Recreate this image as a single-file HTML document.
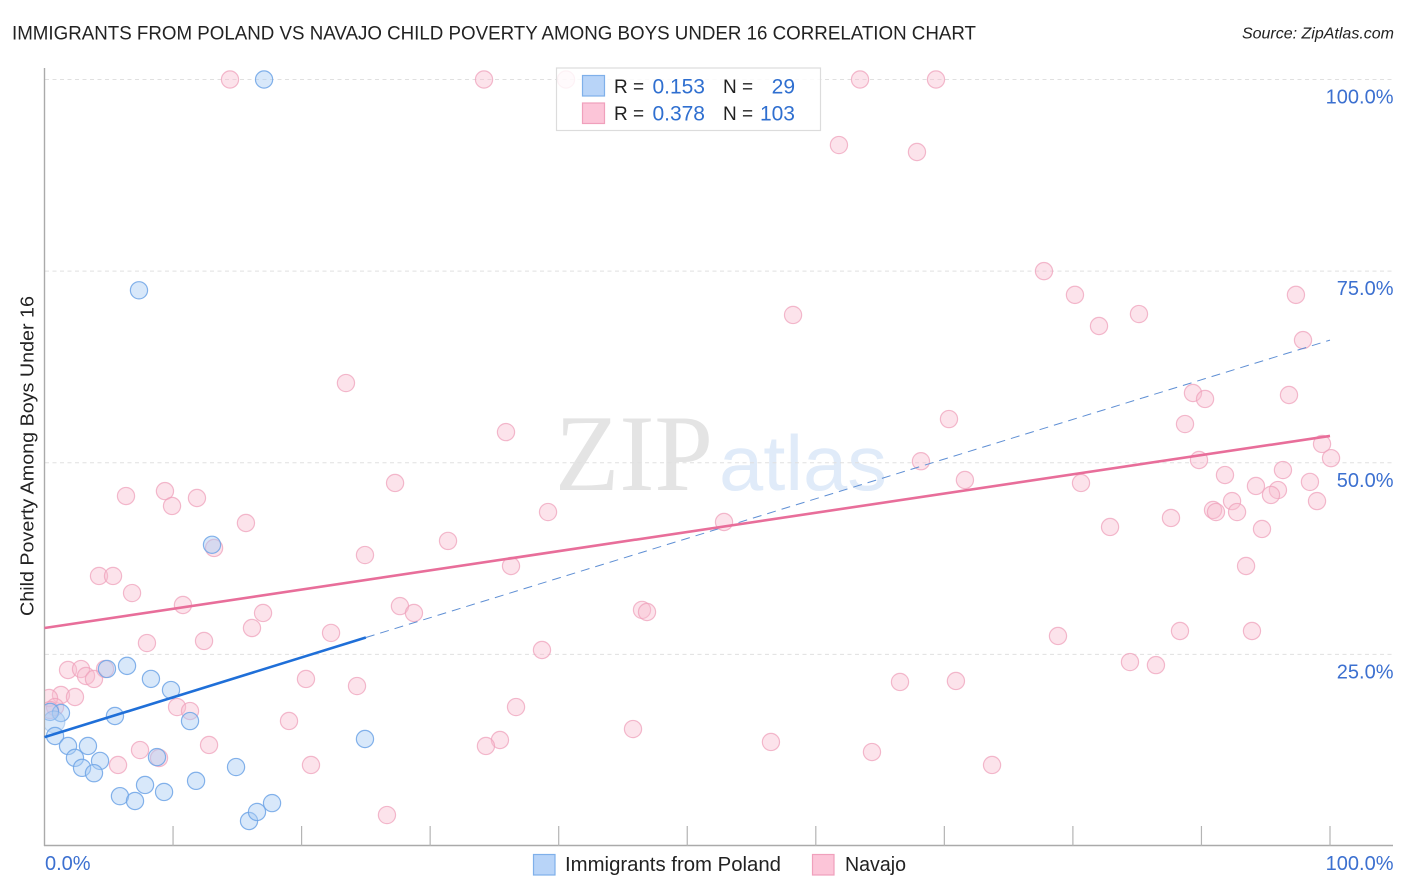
<!DOCTYPE html>
<html lang="en">
<head>
<meta charset="utf-8">
<title>Immigrants from Poland vs Navajo Child Poverty Among Boys Under 16 Correlation Chart</title>
<style>
html,body{margin:0;padding:0;background:#fff;width:1406px;height:892px;overflow:hidden}
svg{display:block}
text{font-family:"Liberation Sans",sans-serif}
.tick{fill:#3c70d0;font-size:20px}
.leg{fill:#222;font-size:19px}
.val{fill:#2f6fd0;font-size:21px}
</style>
</head>
<body>
<svg id="chart" width="1406" height="892" viewBox="0 0 1406 892" xmlns="http://www.w3.org/2000/svg">
<defs><clipPath id="plot-clip"><rect x="45" y="60" width="1361" height="786"/></clipPath></defs>
<text x="12" y="39.5" font-size="19.5" fill="#222" textLength="964" lengthAdjust="spacingAndGlyphs">IMMIGRANTS FROM POLAND VS NAVAJO CHILD POVERTY AMONG BOYS UNDER 16 CORRELATION CHART</text>
<text x="1394" y="38.5" font-size="16" font-style="italic" fill="#222" text-anchor="end">Source: ZipAtlas.com</text>
<g>
<text x="555" y="490" font-size="109" fill="#e4e4e4" textLength="158" lengthAdjust="spacingAndGlyphs" style="font-family:'Liberation Serif',serif">ZIP</text>
<text x="719" y="490" font-size="78" fill="#e0ebf9" textLength="168" lengthAdjust="spacingAndGlyphs">atlas</text>
</g>
<g id="grid"></g>
<g id="axes"></g>
<g id="points" clip-path="url(#plot-clip)"></g>
<g id="trends"></g>
<g id="labels"></g>
<text transform="translate(33.5 456) rotate(-90)" font-size="18" fill="#222" text-anchor="middle" textLength="320" lengthAdjust="spacingAndGlyphs">Child Poverty Among Boys Under 16</text>
<g>
<rect x="556.5" y="68" width="264" height="62.5" fill="#fff" fill-opacity="0.82" stroke="#dcdcdc" stroke-width="1.2"/>
<rect x="582.5" y="75.5" width="22" height="20.5" fill="#b8d4f8" stroke="#7fb0ea" stroke-width="1.2"/>
<rect x="582.5" y="103" width="22" height="20.5" fill="#fcc5d8" stroke="#f0a0bc" stroke-width="1.2"/>
<text class="leg" x="614" y="93">R =</text>
<text class="val" x="705" y="93.5" text-anchor="end">0.153</text>
<text class="leg" x="723" y="93">N =</text>
<text class="val" x="795" y="93.5" text-anchor="end">29</text>
<text class="leg" x="614" y="120">R =</text>
<text class="val" x="705" y="120.5" text-anchor="end">0.378</text>
<text class="leg" x="723" y="120">N =</text>
<text class="val" x="795" y="120.5" text-anchor="end">103</text>
</g>
<g>
<rect x="533.5" y="854.5" width="21.5" height="20.5" fill="#b8d4f8" stroke="#7fb0ea" stroke-width="1.2"/>
<text x="565" y="871" font-size="20" fill="#222" textLength="216" lengthAdjust="spacingAndGlyphs">Immigrants from Poland</text>
<rect x="812.5" y="854.5" width="21.5" height="20.5" fill="#fcc5d8" stroke="#f0a0bc" stroke-width="1.2"/>
<text x="845" y="871" font-size="20" fill="#222" textLength="61" lengthAdjust="spacingAndGlyphs">Navajo</text>
</g>
</svg>
<script>
const xTickValues = [0, 10, 20, 30, 40, 50, 60, 70, 80, 90, 100];
const yGridValues = [25, 50, 75, 100];
const yTickLabels = ["25.0%", "50.0%", "75.0%", "100.0%"];
const xEndLabels = ["0.0%", "100.0%"];

const polandX = [17.08,7.35,13.03,6.42,4.86,8.28,9.84,5.48,11.32,1.28,0.43,0.74,0.82,1.83,3.38,2.37,4.32,2.92,3.85,8.75,7.82,5.87,7.04,9.3,11.79,14.9,24.93,15.91,16.53,17.7];
const polandY = [100,72.5,39.3,23.5,23.1,21.8,20.35,16.96,16.3,17.35,17.5,16.2,14.35,13.05,13.05,11.5,11.1,10.2,9.5,11.6,7.96,6.5,5.87,7.05,8.5,10.3,13.96,3.26,4.44,5.6];
const polandWeight = {11: 1.6};

const navajoX = [14.43,34.19,40.57,63.44,69.35,61.8,67.87,77.75,80.16,82.03,85.14,58.23,97.35,97.9,23.45,89.34,90.28,96.81,70.36,35.9,88.72,99.38,100.08,89.81,68.18,96.34,91.83,71.6,98.44,80.63,27.27,94.24,95.95,95.41,98.99,92.38,90.9,91.13,92.77,39.17,87.63,94.71,82.89,52.86,6.34,9.37,9.92,11.86,15.67,31.39,13.19,24.93,36.29,93.47,4.24,5.33,6.81,10.77,27.65,28.74,17.0,46.48,46.87,16.14,22.29,12.41,7.97,88.33,93.93,78.84,38.7,84.44,86.46,1.83,2.84,4.71,3.23,3.85,20.34,24.31,66.55,70.9,1.28,2.37,0.35,10.31,11.32,0.82,0.43,36.68,19.02,45.78,12.8,35.43,34.34,56.51,64.37,7.43,8.91,5.72,20.73,73.71,26.64];
const navajoY = [100,100,100,100,100,91.45,90.54,75.0,71.9,67.84,69.4,69.28,71.9,66.0,60.4,59.1,58.32,58.84,55.7,54.0,55.05,52.45,50.6,50.36,50.2,49.05,48.4,47.75,47.5,47.36,47.36,46.97,46.44,45.8,45.0,45.0,43.84,43.57,43.57,43.57,42.8,41.36,41.62,42.27,45.66,46.3,44.36,45.4,42.14,39.8,38.88,37.96,36.53,36.53,35.23,35.23,33.0,31.44,31.3,30.4,30.4,30.8,30.53,28.44,27.8,26.75,26.48,28.05,28.05,27.4,25.57,24.0,23.6,22.96,23.09,23.09,22.18,21.79,21.79,20.87,21.4,21.53,19.7,19.44,19.31,18.13,17.61,18.13,17.74,18.13,16.31,15.26,13.18,13.83,13.05,13.57,12.26,12.52,11.48,10.57,10.57,10.57,4.04];

const polandTrendX = [0, 25, 100];
const polandTrendY = [14.2, 27.2, 66.0];
const navajoTrendX = [0, 100];
const navajoTrendY = [28.44, 53.5];

const sx = v => 44.5 + v * 12.855;
const sy = v => 846 - v * 7.665;
const NS = 'http://www.w3.org/2000/svg';
function mk(parent, tag, attrs, text) {
  const el = document.createElementNS(NS, tag);
  for (const k in attrs) el.setAttribute(k, attrs[k]);
  if (text !== undefined) el.textContent = text;
  parent.appendChild(el);
  return el;
}
const grid = document.getElementById('grid');
const axes = document.getElementById('axes');
const points = document.getElementById('points');
const trends = document.getElementById('trends');
const labels = document.getElementById('labels');

yGridValues.forEach((v, i) => {
  const ln = mk(grid, 'line', {x1: 45, x2: 1393, y1: sy(v), y2: sy(v), stroke: '#e0e0e0', 'stroke-width': 1, 'stroke-dasharray': '4 3.5'});
  
  
  const t = mk(labels, 'text', {x: 1393.5, y: sy(v) + 24, 'text-anchor': 'end', class: 'tick'}, yTickLabels[i]);
  
  
});

const yAxis = mk(axes, 'line', {x1: 44.5, x2: 44.5, y1: 68, y2: 846, stroke: '#aaaaaa', 'stroke-width': 1.4});


const xAxis = mk(axes, 'line', {x1: 44, x2: 1393, y1: 845.5, y2: 845.5, stroke: '#aaaaaa', 'stroke-width': 1.4});


xTickValues.slice(1).forEach(v => {
  const tk = mk(axes, 'line', {x1: sx(v), x2: sx(v), y1: 826, y2: 846, stroke: '#b4b4b4', 'stroke-width': 1.2});
  
  
});

const xl0 = mk(labels, 'text', {x: 45, y: 870, class: 'tick'}, xEndLabels[0]);


const xl1 = mk(labels, 'text', {x: 1393.5, y: 870, 'text-anchor': 'end', class: 'tick'}, xEndLabels[1]);



navajoX.forEach((v, i) => {
  const c = mk(points, 'circle', {cx: sx(v), cy: sy(navajoY[i]), r: 8.6, fill: '#f8bcd0', 'fill-opacity': 0.42, stroke: '#ee9fba', 'stroke-width': 1.2, 'stroke-opacity': 0.72});
  
  
});
polandX.forEach((v, i) => {
  const w = polandWeight[i] || 1;
  const c = mk(points, 'circle', {cx: sx(v), cy: sy(polandY[i]), r: 8.6 * Math.sqrt(w), fill: '#a8ccf5', 'fill-opacity': 0.45, stroke: '#6ea4e6', 'stroke-width': 1.2, 'stroke-opacity': w > 1 ? 0.4 : 0.85});
  
  
});

const pd = mk(trends, 'line', {x1: sx(polandTrendX[1]), y1: sy(polandTrendY[1]), x2: sx(polandTrendX[2]), y2: sy(polandTrendY[2]), stroke: '#5f8fd4', 'stroke-width': 1, 'stroke-dasharray': '9 6'});


const ps = mk(trends, 'line', {x1: sx(polandTrendX[0]), y1: sy(polandTrendY[0]), x2: sx(polandTrendX[1]), y2: sy(polandTrendY[1]), stroke: '#1f6fd8', 'stroke-width': 2.6});


const nt = mk(trends, 'line', {x1: sx(navajoTrendX[0]), y1: sy(navajoTrendY[0]), x2: sx(navajoTrendX[1]), y2: sy(navajoTrendY[1]), stroke: '#e86e9a', 'stroke-width': 2.6});


</script>
</body>
</html>
